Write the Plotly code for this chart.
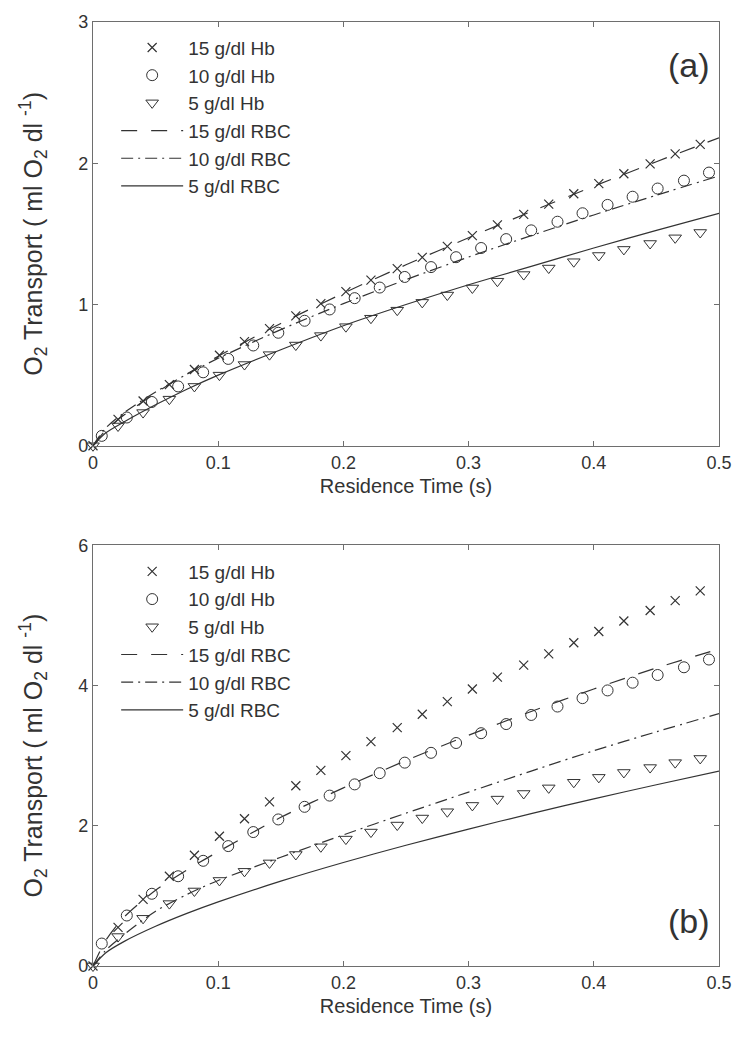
import plotly.graph_objects as go

# sample times (s)
T_MARK = [0.0, 0.020, 0.040, 0.061, 0.081, 0.101, 0.121, 0.141, 0.162, 0.182,
          0.202, 0.222, 0.243, 0.263, 0.283, 0.303, 0.323, 0.344, 0.364, 0.384,
          0.404, 0.424, 0.445, 0.465, 0.485]
T_CIRC = [0.007, 0.027, 0.047, 0.068, 0.088, 0.108, 0.128, 0.148, 0.169, 0.189,
          0.209, 0.229, 0.249, 0.270, 0.290, 0.310, 0.330, 0.350, 0.371, 0.391,
          0.411, 0.431, 0.451, 0.472, 0.492]
T_LINE = [0, 0.01, 0.025, 0.05, 0.075, 0.1, 0.15, 0.2, 0.25, 0.3, 0.35, 0.4, 0.45, 0.5]

# panel (a)
HB15_A = [0, 0.187, 0.317, 0.433, 0.540, 0.641, 0.737, 0.829, 0.919, 1.006, 1.091, 1.173, 1.254,
          1.334, 1.411, 1.488, 1.564, 1.638, 1.711, 1.784, 1.856, 1.926, 1.996, 2.066, 2.134]
HB10_A = [0.07, 0.20, 0.31, 0.42, 0.52, 0.615, 0.71, 0.80, 0.885, 0.965, 1.045, 1.12, 1.195,
          1.265, 1.335, 1.40, 1.463, 1.525, 1.586, 1.646, 1.705, 1.763, 1.821, 1.877, 1.934]
HB5_A = [0, 0.14, 0.235, 0.33, 0.42, 0.50, 0.575, 0.645, 0.713, 0.78, 0.843, 0.903, 0.96,
         1.015, 1.067, 1.117, 1.165, 1.212, 1.258, 1.303, 1.347, 1.39, 1.432, 1.472, 1.51]
RBC15_A = [0, 0.109, 0.219, 0.373, 0.509, 0.634, 0.866, 1.080, 1.281, 1.473, 1.658, 1.837, 2.011, 2.18]
RBC10_A = [0, 0.124, 0.235, 0.381, 0.506, 0.619, 0.822, 1.006, 1.176, 1.336, 1.488, 1.634, 1.774, 1.91]
RBC5_A = [0, 0.09, 0.17, 0.29, 0.40, 0.50, 0.68, 0.85, 1.00, 1.14, 1.27, 1.40, 1.525, 1.646]

# panel (b)
HB15_B = [0, 0.55, 0.95, 1.28, 1.58, 1.85, 2.10, 2.34, 2.57, 2.79, 3.00, 3.20, 3.40,
          3.59, 3.77, 3.95, 4.12, 4.29, 4.45, 4.61, 4.77, 4.92, 5.07, 5.21, 5.35]
HB10_B = [0.32, 0.72, 1.03, 1.28, 1.50, 1.71, 1.91, 2.09, 2.27, 2.43, 2.59, 2.75, 2.90,
          3.04, 3.18, 3.32, 3.45, 3.58, 3.70, 3.82, 3.93, 4.04, 4.15, 4.26, 4.37]
HB5_B = [0, 0.42, 0.68, 0.89, 1.07, 1.22, 1.35, 1.47, 1.59, 1.70, 1.81, 1.91, 2.01,
         2.11, 2.20, 2.29, 2.38, 2.46, 2.54, 2.62, 2.69, 2.76, 2.83, 2.90, 2.96]
RBC15_B = [0, 0.36, 0.70, 1.08, 1.37, 1.63, 2.12, 2.54, 2.93, 3.29, 3.63, 3.95, 4.25, 4.52]
RBC10_B = [0, 0.22, 0.45, 0.78, 1.02, 1.22, 1.55, 1.87, 2.18, 2.48, 2.78, 3.07, 3.34, 3.60]
RBC5_B = [0, 0.186, 0.351, 0.566, 0.75, 0.914, 1.21, 1.476, 1.722, 1.953, 2.173, 2.383, 2.585, 2.78]

LABELS = ["15 g/dl Hb", "10 g/dl Hb", "5 g/dl Hb", "15 g/dl RBC", "10 g/dl RBC", "5 g/dl RBC"]

FONT = "Liberation Sans, Arial, Helvetica, sans-serif"
INK = "#333333"
AXIS = "#6e6e6e"


def add_panel(fig, xa, ya, legend, hb, rbc):
    marks = [
        (T_MARK, hb[0], dict(symbol="x-thin-open", size=9, line=dict(width=1.2, color=INK))),
        (T_CIRC, hb[1], dict(symbol="circle-open", size=11, line=dict(width=1, color=INK))),
        (T_MARK, hb[2], dict(symbol="triangle-down-open", size=11, line=dict(width=1, color=INK))),
    ]
    for i, (t, y, m) in enumerate(marks):
        fig.add_trace(go.Scatter(
            x=t, y=y, mode="markers", name=LABELS[i], marker=dict(color=INK, **m),
            xaxis=xa, yaxis=ya, legend=legend, cliponaxis=False,
        ))
    dashes = ["16px,14px", "12px,5px,2px,5px", "solid"]
    for i, y in enumerate(rbc):
        fig.add_trace(go.Scatter(
            x=T_LINE, y=y, mode="lines", name=LABELS[3 + i],
            line=dict(color=INK, width=1.2, dash=dashes[i], shape="spline", smoothing=0.8),
            xaxis=xa, yaxis=ya, legend=legend,
        ))


fig = go.Figure()
add_panel(fig, "x", "y", "legend", [HB15_A, HB10_A, HB5_A], [RBC15_A, RBC10_A, RBC5_A])
add_panel(fig, "x2", "y2", "legend2", [HB15_B, HB10_B, HB5_B], [RBC15_B, RBC10_B, RBC5_B])

common_x = dict(
    range=[0, 0.5], tickvals=[0, 0.1, 0.2, 0.3, 0.4, 0.5],
    showline=True, mirror="ticks", linecolor=AXIS, linewidth=1.3,
    ticks="inside", ticklen=5, tickcolor=AXIS, showgrid=False, zeroline=False,
    tickfont=dict(size=18, color=INK),
    title=dict(text="Residence Time (s)", font=dict(size=20, color=INK), standoff=7),
)
ytitle = "O<sub>2</sub> Transport ( ml O<sub>2</sub> dl <sup>-1</sup>)"
common_y = dict(
    showline=True, mirror="ticks", linecolor=AXIS, linewidth=1.3,
    ticks="inside", ticklen=5, tickcolor=AXIS, showgrid=False, zeroline=False,
    tickfont=dict(size=18, color=INK),
    title=dict(text=ytitle, font=dict(size=25, color=INK), standoff=28),
)

legend_style = dict(
    font=dict(size=19, color=INK, family=FONT), bgcolor="rgba(0,0,0,0)",
    xanchor="left", yanchor="top", tracegroupgap=0, itemwidth=62,
)

fig.update_layout(
    width=744, height=1038,
    margin=dict(l=93, r=16, t=17, b=72),
    paper_bgcolor="white", plot_bgcolor="white",
    font=dict(family=FONT, color=INK),
    xaxis=dict(domain=[0, 1], anchor="y", **common_x),
    yaxis=dict(domain=[0.5511, 1], anchor="x", range=[0, 3], tickvals=[0, 1, 2, 3], **common_y),
    xaxis2=dict(domain=[0, 1], anchor="y2", **common_x),
    yaxis2=dict(domain=[0, 0.4457], anchor="x2", range=[0, 6], tickvals=[0, 2, 4, 6], **common_y),
    legend=dict(x=0.037, y=0.993, **legend_style),
    legend2=dict(x=0.037, y=0.438, **legend_style),
    annotations=[
        dict(text="(a)", xref="x domain", yref="y domain", x=0.952, y=0.899,
             xanchor="center", yanchor="middle", showarrow=False, font=dict(size=34, color=INK)),
        dict(text="(b)", xref="x2 domain", yref="y2 domain", x=0.952, y=0.106,
             xanchor="center", yanchor="middle", showarrow=False, font=dict(size=34, color=INK)),
    ],
)

fig.write_html("out.html", config={"displayModeBar": False},
               post_script="document.body.style.margin='0';")
